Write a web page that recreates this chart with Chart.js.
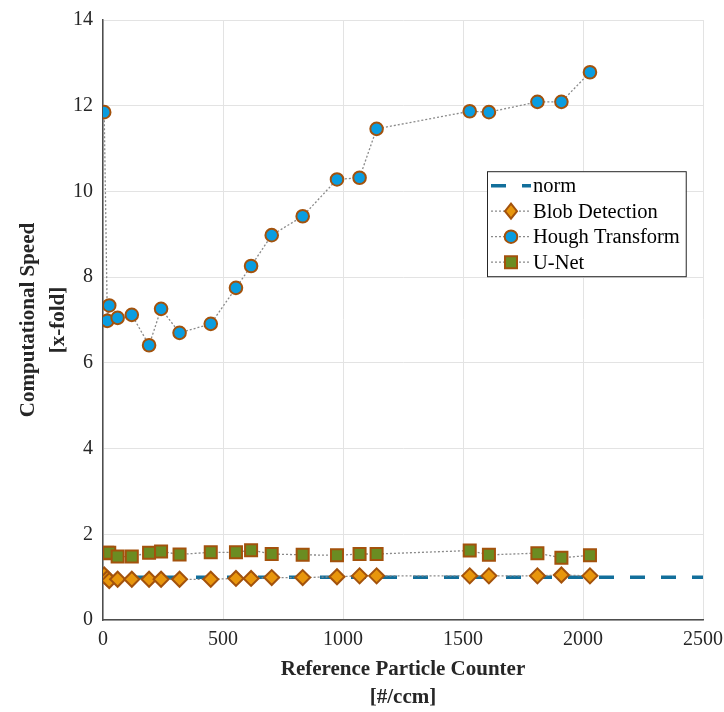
<!DOCTYPE html>
<html>
<head>
<meta charset="utf-8">
<script src="https://cdn.jsdelivr.net/npm/chart.js@4.4.1/dist/chart.umd.min.js"></script>
<style>
  html, body { margin: 0; padding: 0; background: #fff; }
  #wrap { width: 724px; height: 712px; }
</style>
</head>
<body>
<div id="wrap"><canvas id="speedChart" width="724" height="712"></canvas></div>
<script>
// particle counts (x) shared by all three methods
const counts = [5, 18, 26, 61, 120, 192, 242, 319, 449, 554, 617, 703, 832, 975, 1069, 1140, 1528, 1608, 1810, 1910, 2029];
const hough = [11.85, 6.98, 7.34, 7.05, 7.12, 6.41, 7.26, 6.70, 6.91, 7.75, 8.26, 8.98, 9.42, 10.28, 10.32, 11.46, 11.87, 11.85, 12.09, 12.09, 12.78];
const blob = [1.05, 0.97, 0.92, 0.95, 0.95, 0.95, 0.95, 0.95, 0.95, 0.97, 0.97, 0.99, 0.99, 1.01, 1.03, 1.03, 1.03, 1.03, 1.03, 1.05, 1.03];
const unet = [1.56, 1.57, 1.57, 1.48, 1.48, 1.57, 1.60, 1.53, 1.58, 1.58, 1.63, 1.54, 1.52, 1.51, 1.54, 1.54, 1.62, 1.52, 1.56, 1.45, 1.51];
const normX = [0, 2500];
const normY = [1, 1];
const xTicks = [0, 500, 1000, 1500, 2000, 2500];
const yTicks = [0, 2, 4, 6, 8, 10, 12, 14];

const FONT = "'Liberation Serif', 'DejaVu Serif', serif";
const TEXT = "#262626";

function pts(xs, ys) {
  return xs.map((x, i) => ({ x: x, y: ys[i] }));
}

function series(label, ys, shape, fill, radius) {
  return {
    label: label,
    data: pts(counts, ys),
    borderColor: "#8a8a8a",
    borderWidth: 1.3,
    borderDash: [2, 2],
    pointStyle: shape,
    pointRadius: radius,
    pointBackgroundColor: fill,
    pointBorderColor: "#a3520c",
    pointBorderWidth: 2,
    showLine: true,
    tension: 0
  };
}

const datasets = [
  {
    label: "norm",
    data: pts(normX, normY),
    borderColor: "#126f9b",
    borderWidth: 3.5,
    borderDash: [15, 16],
    pointRadius: 0,
    showLine: true,
    order: 10
  },
  series("Blob Detection", blob, "rectRot", "#e8960c", 7.5),
  series("Hough Transform", hough, "circle", "#0a9de0", 6.3),
  series("U-Net", unet, "rect", "#6b8c22", 8.5)
];

// legend with line sample + marker, like the matlab one
function marker(ctx, ds, x, y) {
  const r = ds.pointRadius;
  ctx.save();
  ctx.fillStyle = ds.pointBackgroundColor;
  ctx.strokeStyle = ds.pointBorderColor;
  ctx.lineWidth = ds.pointBorderWidth;
  ctx.setLineDash([]);
  ctx.beginPath();
  if (ds.pointStyle === "circle") {
    ctx.arc(x, y, r, 0, Math.PI * 2);
  } else if (ds.pointStyle === "rectRot") {
    ctx.moveTo(x, y - r);
    ctx.lineTo(x + r * 0.8, y);
    ctx.lineTo(x, y + r);
    ctx.lineTo(x - r * 0.8, y);
    ctx.closePath();
  } else {
    const s = r * Math.SQRT1_2;
    ctx.rect(x - s, y - s, 2 * s, 2 * s);
  }
  ctx.fill();
  ctx.stroke();
  ctx.restore();
}

const legendBox = {
  id: "legendBox",
  afterDraw(chart) {
    const ctx = chart.ctx;
    const area = chart.chartArea;
    const left = area.left + 0.64 * (area.right - area.left);
    const top = area.top + 0.252 * (area.bottom - area.top);
    const rowH = 25.5;
    ctx.save();
    ctx.font = "20.5px " + FONT;
    let maxW = 0;
    chart.data.datasets.forEach(ds => { maxW = Math.max(maxW, ctx.measureText(ds.label).width); });
    const w = 47 + maxW + 5;
    const h = rowH * chart.data.datasets.length + 3;
    ctx.fillStyle = "#fff";
    ctx.fillRect(left, top, w, h);
    ctx.strokeStyle = "#262626";
    ctx.lineWidth = 1;
    ctx.strokeRect(left + 0.5, top + 0.5, w, h);

    chart.data.datasets.forEach((ds, i) => {
      const y = top + 14.5 + i * rowH;
      ctx.save();
      ctx.strokeStyle = ds.borderColor;
      ctx.lineWidth = ds.borderWidth;
      ctx.setLineDash(ds.borderDash);
      ctx.beginPath();
      ctx.moveTo(left + 4, y);
      ctx.lineTo(left + 44, y);
      ctx.stroke();
      ctx.restore();
      if (ds.pointRadius > 0) marker(ctx, ds, left + 24, y);
      ctx.fillStyle = "#000";
      ctx.textBaseline = "middle";
      ctx.textAlign = "left";
      ctx.fillText(ds.label, left + 46, y + 1);
    });
    ctx.restore();
  }
};

new Chart(document.getElementById("speedChart"), {
  type: "scatter",
  data: { datasets: datasets },
  options: {
    responsive: false,
    animation: false,
    layout: { padding: { top: 20, right: 21, left: 0, bottom: 0 } },
    plugins: { legend: { display: false }, tooltip: { enabled: false } },
    scales: {
      x: {
        type: "linear",
        min: 0,
        max: 2500,
        afterBuildTicks: s => { s.ticks = xTicks.map(v => ({ value: v })); },
        afterFit: s => { s.height = 92; s.paddingLeft = 0; s.paddingRight = 0; },
        grid: { color: "#e3e3e3", lineWidth: 1, drawTicks: false },
        border: { color: "#4d4d4d", width: 1.5 },
        ticks: { color: TEXT, font: { family: FONT, size: 20 }, padding: 8, maxRotation: 0, callback: v => String(v) },
        title: {
          display: true,
          text: ["Reference Particle Counter", "[#/ccm]"],
          color: TEXT,
          font: { family: FONT, size: 21, weight: "bold", lineHeight: 1.3 },
          padding: { top: 0, bottom: 1 }
        }
      },
      y: {
        type: "linear",
        min: 0,
        max: 14,
        afterBuildTicks: s => { s.ticks = yTicks.map(v => ({ value: v })); },
        afterFit: s => { s.width = 103; s.paddingTop = 0; s.paddingBottom = 0; },
        grid: { color: "#e3e3e3", lineWidth: 1, drawTicks: false },
        border: { color: "#4d4d4d", width: 1.5 },
        ticks: { color: TEXT, font: { family: FONT, size: 20 }, padding: 10, callback: v => String(v) },
        title: {
          display: true,
          text: ["Computational Speed", "[x-fold]"],
          color: TEXT,
          font: { family: FONT, size: 21, weight: "bold", lineHeight: 1.4 },
          padding: { top: 14, bottom: 0 }
        }
      }
    }
  },
  plugins: [legendBox]
});
</script>
</body>
</html>
